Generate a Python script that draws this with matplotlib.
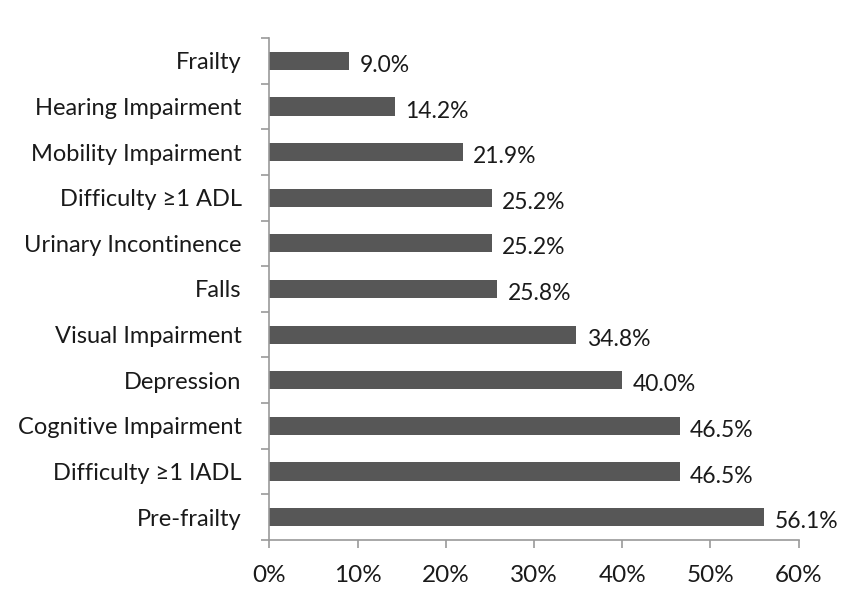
import numpy as np
import matplotlib.pyplot as plt

categories = ['Frailty', 'Hearing Impairment', 'Mobility Impairment',
              'Difficulty ≥1 ADL', 'Urinary Incontinence', 'Falls',
              'Visual Impairment', 'Depression', 'Cognitive Impairment',
              'Difficulty ≥1 IADL', 'Pre-frailty']
values = [9.0, 14.2, 21.9, 25.2, 25.2, 25.8, 34.8, 40.0, 46.5, 46.5, 56.1]
xticks = [0, 10, 20, 30, 40, 50, 60]

plt.rcParams['font.family'] = ['Lato', 'DejaVu Sans']

fig = plt.figure(figsize=(8.47, 5.89), dpi=100)
ax = fig.add_axes([0.318, 0.0832, 0.625, 0.8523])

y = np.arange(len(categories))
ax.barh(y, values, height=0.4, color='#575757')
ax.set_ylim(len(categories) - 0.5, -0.5)
ax.set_xlim(0, 60)

for yi, v in zip(y, values):
    ax.text(v + 1.2, yi + 0.1, f'{v:.1f}%', va='center', ha='left',
            fontsize=16.5, color='#1a1a1a')

ax.set_yticks(y)
ax.set_yticklabels(categories, fontsize=17, color='#1a1a1a')
ax.set_yticks(np.arange(-0.5, len(categories)), minor=True)
ax.tick_params(axis='y', which='major', length=0, pad=20)
ax.tick_params(axis='y', which='minor', length=6, color='#9a9a9a', width=1.2)

ax.set_xticks(xticks)
ax.set_xticklabels([f'{t}%' for t in xticks], fontsize=17.5, color='#1a1a1a')
ax.tick_params(axis='x', length=6, color='#9a9a9a', width=1.2, pad=12)

for s in ['top', 'right']:
    ax.spines[s].set_visible(False)
for s in ['left', 'bottom']:
    ax.spines[s].set_color('#9a9a9a')
    ax.spines[s].set_linewidth(1.2)

plt.savefig('out.png', dpi=100)
